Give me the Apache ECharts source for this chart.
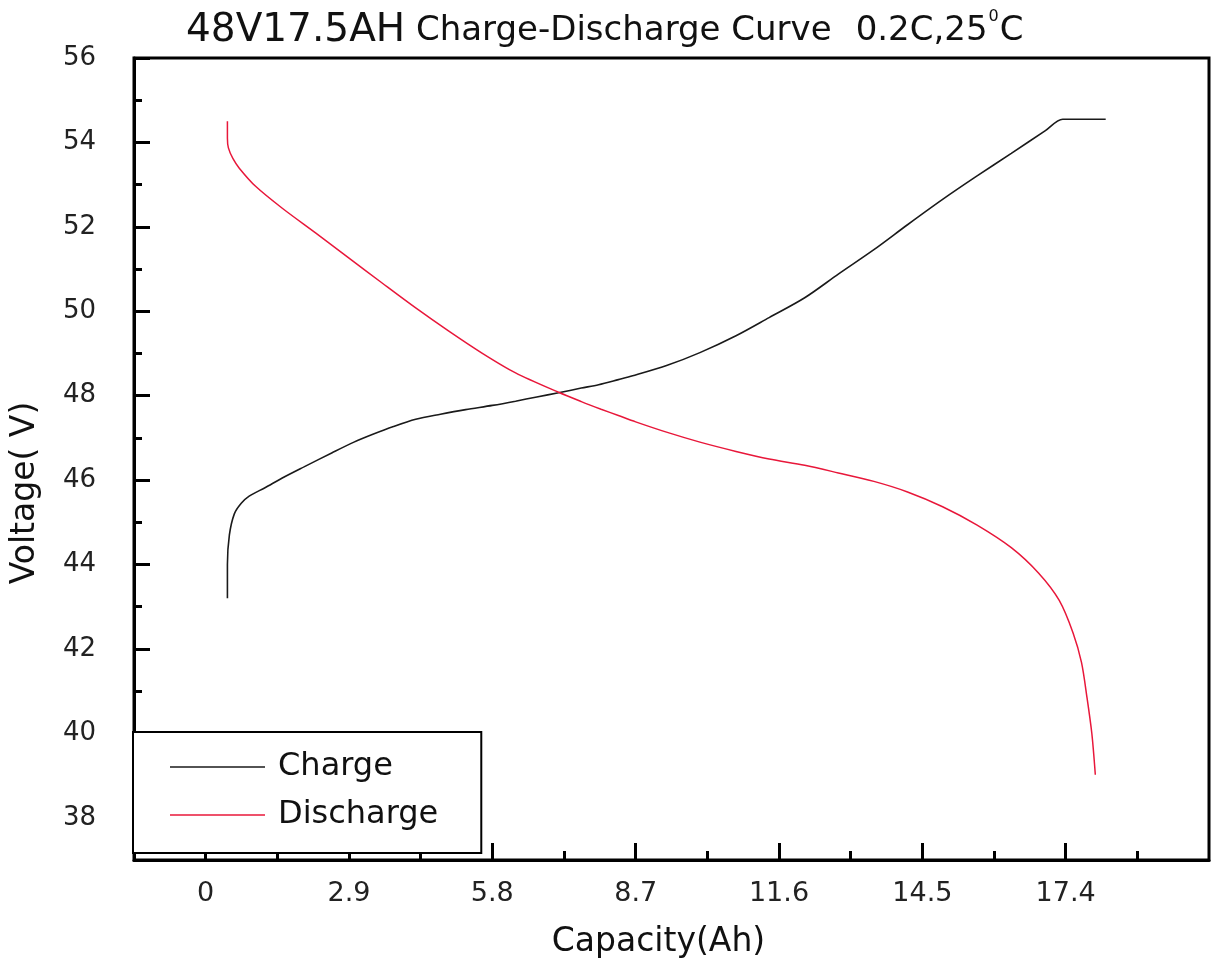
<!DOCTYPE html>
<html>
<head>
<meta charset="utf-8">
<script src="https://cdn.jsdelivr.net/npm/echarts@6/dist/echarts.min.js"></script>
<style>
html,body{margin:0;padding:0;background:#fff;}
#chart{width:1213px;height:966px;}
</style>
</head>
<body>
<div id="chart"></div>
<script>
// ---- data ----
const capacityTicks = [0, 2.9, 5.8, 8.7, 11.6, 14.5, 17.4];
const capacityMinorTicks = [1.45, 4.35, 7.25, 10.15, 13.05, 15.95, 18.85];
const voltageTicks = [38, 40, 42, 44, 46, 48, 50, 52, 54, 56];
const voltageMinorTicks = [39, 41, 43, 45, 47, 49, 51, 53, 55];

const chargeCapacity = [0.44, 0.44, 0.48, 0.58, 0.72, 0.88, 1.2, 1.55, 2.0, 2.56, 3.0, 3.37, 3.8, 4.25, 4.75, 5.26, 5.8, 6.27, 6.7, 7.14, 7.6, 7.95, 8.35, 8.64, 9.34, 10.0, 10.73, 11.4, 12.12, 12.8, 13.52, 14.2, 14.91, 15.6, 16.3, 16.99, 17.34, 18.21];
const chargeVoltage = [43.2, 44.0, 44.7, 45.2, 45.45, 45.62, 45.82, 46.05, 46.32, 46.65, 46.9, 47.08, 47.27, 47.44, 47.56, 47.67, 47.77, 47.87, 47.97, 48.07, 48.18, 48.26, 48.38, 48.47, 48.72, 49.02, 49.42, 49.85, 50.32, 50.88, 51.46, 52.05, 52.65, 53.2, 53.74, 54.28, 54.55, 54.55];

const dischargeCapacity = [0.44, 0.44, 0.46, 0.55, 0.68, 1.01, 1.55, 2.23, 2.9, 3.57, 4.25, 4.92, 5.59, 6.27, 7.14, 7.6, 8.0, 8.35, 8.7, 9.34, 10.0, 10.73, 11.4, 12.12, 12.8, 13.52, 14.2, 14.91, 15.6, 16.3, 16.85, 17.27, 17.55, 17.72, 17.83, 17.93, 18.0];
const dischargeVoltage = [54.5, 54.1, 53.87, 53.62, 53.39, 52.96, 52.44, 51.85, 51.26, 50.67, 50.08, 49.53, 49.01, 48.54, 48.08, 47.86, 47.68, 47.53, 47.38, 47.13, 46.9, 46.68, 46.5, 46.35, 46.17, 45.97, 45.72, 45.37, 44.94, 44.4, 43.8, 43.15, 42.38, 41.68, 40.86, 39.99, 39.02];

const zip = (xs, ys) => xs.map((x, i) => [x, ys[i]]);

const FONT = 'DejaVu Sans';
const chart = echarts.init(document.getElementById('chart'), null, {renderer: 'canvas'});

const option = {
  animation: false,
  backgroundColor: '#fff',
  title: {
    left: 186,
    top: 11,
    padding: 0,
    text: '{a|48V17.5AH}{b| Charge-Discharge Curve}{c|0.2C,25}{s|0}{b|C}',
    textStyle: {
      fontWeight: 'normal',
      rich: {
        a: {fontFamily: FONT, fontWeight: 'normal', fontSize: 39, color: '#111', lineHeight: 39, verticalAlign: 'bottom'},
        b: {fontFamily: FONT, fontWeight: 'normal', fontSize: 34, color: '#111', lineHeight: 34, verticalAlign: 'bottom', padding: [0, 0, 2, 0]},
        c: {fontFamily: FONT, fontWeight: 'normal', fontSize: 34, color: '#111', lineHeight: 34, verticalAlign: 'bottom', padding: [0, 0, 2, 24]},
        s: {fontFamily: FONT, fontWeight: 'normal', fontSize: 16, color: '#111', lineHeight: 16, verticalAlign: 'bottom', padding: [0, 1, 25, 1]}
      }
    }
  },
  grid: {
    left: 134, right: 4, top: 58, bottom: 106,
    show: true, borderColor: '#000', borderWidth: 3, backgroundColor: 'transparent'
  },
  legend: {
    left: 133, top: 732,
    orient: 'vertical',
    data: ['Charge', 'Discharge'],
    icon: 'rect',
    backgroundColor: '#fff',
    borderColor: '#000',
    borderWidth: 2,
    borderRadius: 0,
    padding: [15, 43, 18, 37],
    itemWidth: 95,
    itemHeight: 1.6,
    itemGap: 8,
    selectedMode: false,
    textStyle: {fontFamily: FONT, fontSize: 32, color: '#111', lineHeight: 40, padding: [0, 0, 0, 8]}
  },
  xAxis: [
    {
      type: 'value', min: -1.45, max: 20.3,
      name: 'Capacity(Ah)', nameLocation: 'middle', nameGap: 66,
      nameTextStyle: {fontFamily: FONT, fontSize: 33, color: '#111', padding: [0, 26, 0, 0]},
      axisLine: {show: true, onZero: false, lineStyle: {color: '#000', width: 3}},
      axisTick: {show: true, inside: true, length: 17, lineStyle: {color: '#000', width: 3}, customValues: capacityTicks},
      axisLabel: {show: true, margin: 20, fontFamily: FONT, fontSize: 27, color: '#222', customValues: capacityTicks, formatter: v => String(v)},
      splitLine: {show: false}
    },
    {
      type: 'value', min: -1.45, max: 20.3, position: 'bottom', gridIndex: 0,
      axisLine: {show: false, onZero: false},
      axisTick: {show: true, inside: true, length: 9, lineStyle: {color: '#000', width: 3}, customValues: capacityMinorTicks},
      axisLabel: {show: false},
      splitLine: {show: false}
    }
  ],
  yAxis: [
    {
      type: 'value', min: 37, max: 56, position: 'left',
      name: 'Voltage( V)', nameLocation: 'middle', nameGap: 92,
      nameTextStyle: {fontFamily: FONT, fontSize: 33, color: '#111', padding: [0, 68, 0, 0]},
      axisLine: {show: true, onZero: false, lineStyle: {color: '#000', width: 3}},
      axisTick: {show: true, inside: true, length: 16, lineStyle: {color: '#000', width: 3}, customValues: voltageTicks},
      axisLabel: {show: true, margin: 38, fontFamily: FONT, fontSize: 26, color: '#222', customValues: voltageTicks},
      splitLine: {show: false}
    },
    {
      type: 'value', min: 37, max: 56, position: 'left', gridIndex: 0,
      axisLine: {show: false, onZero: false},
      axisTick: {show: true, inside: true, length: 8, lineStyle: {color: '#000', width: 3}, customValues: voltageMinorTicks},
      axisLabel: {show: false},
      splitLine: {show: false}
    }
  ],
  series: [
    {
      name: 'Charge', type: 'line', xAxisIndex: 0, yAxisIndex: 0,
      data: zip(chargeCapacity, chargeVoltage),
      symbol: 'none', smooth: 0.3,
      lineStyle: {color: '#1a1a1a', width: 1.6},
      itemStyle: {color: '#1a1a1a'}
    },
    {
      name: 'Discharge', type: 'line', xAxisIndex: 0, yAxisIndex: 0,
      data: zip(dischargeCapacity, dischargeVoltage),
      symbol: 'none', smooth: 0.3,
      lineStyle: {color: '#e8173a', width: 1.5},
      itemStyle: {color: '#e8173a'}
    }
  ]
};
chart.setOption(option);
</script>
</body>
</html>
